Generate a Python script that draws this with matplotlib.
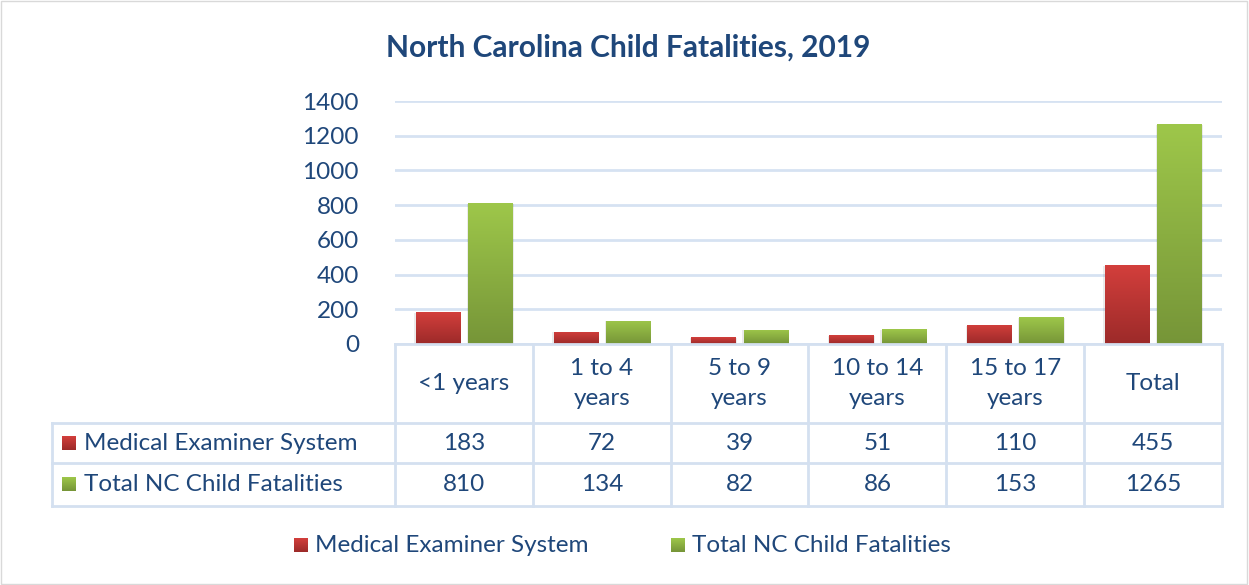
import numpy as np
import matplotlib
matplotlib.use('Agg')
import matplotlib.pyplot as plt
from matplotlib.patches import Rectangle

plt.rcParams['font.family'] = ['Lato', 'DejaVu Sans']

# data
categories = ['<1 years', '1 to 4\nyears', '5 to 9\nyears', '10 to 14\nyears', '15 to 17\nyears', 'Total']
series_names = ['Medical Examiner System', 'Total NC Child Fatalities']
medical_examiner = [183, 72, 39, 51, 110, 455]
total_nc = [810, 134, 82, 86, 153, 1265]
yticks = [0, 200, 400, 600, 800, 1000, 1200, 1400]
title = 'North Carolina Child Fatalities, 2019'

TXT = '#1f477a'
GRID = '#d6e2f2'
gradients = [('#d33f3c', '#9c2a29'), ('#9ec74a', '#769538')]

W, H = 1249, 585
fig = plt.figure(figsize=(W / 100, H / 100), dpi=100)


def fx(px):
    return px / W


def fy(py):
    return 1 - py / H


# plot area
x0, x1, ytop, ybot = 395, 1222, 101, 344
ax = fig.add_axes([fx(x0), fy(ybot), fx(x1 - x0), (ybot - ytop) / H])
ax.set_xlim(0, len(categories))
ax.set_ylim(0, 1400)
ax.set_yticks(yticks)
ax.set_yticklabels([str(t) for t in yticks], fontsize=17.5, color=TXT)
ax.tick_params(axis='y', length=0, pad=26)
ax.set_xticks([])
ax.grid(axis='y', color=GRID, linewidth=2)
ax.set_axisbelow(True)
for s in ax.spines.values():
    s.set_visible(False)

bw = 0.32
offs = [-0.19, 0.19]
for si, vals in enumerate([medical_examiner, total_nc]):
    top_c, bot_c = gradients[si]
    cmap = matplotlib.colors.LinearSegmentedColormap.from_list('g%d' % si, [bot_c, top_c])
    for i, v in enumerate(vals):
        xc = i + 0.5 + offs[si]
        # soft shadow
        ax.add_patch(Rectangle((xc - bw / 2 - 0.01, -8), bw + 0.02, v + 4,
                               facecolor='#000000', alpha=0.08, edgecolor='none', zorder=2))
        bar = ax.bar(xc, v, width=bw, color='none', zorder=3)[0]
        grad = np.linspace(0, 1, 256).reshape(-1, 1)
        im = ax.imshow(grad, cmap=cmap, origin='lower', aspect='auto',
                       extent=(xc - bw / 2, xc + bw / 2, 0, v), zorder=3)
        im.set_clip_path(bar)
ax.set_xlim(0, len(categories))
ax.set_ylim(0, 1400)

# overlay for table, legend, title
ov = fig.add_axes([0, 0, 1, 1])
ov.set_xlim(0, W)
ov.set_ylim(H, 0)
ov.axis('off')
ov.patch.set_alpha(0)

ov.add_patch(Rectangle((1, 1), W - 3, H - 2, fill=False, edgecolor='#d9d9d9', linewidth=1))
ov.text(628, 48, title, fontsize=21.5, fontweight='bold', color=TXT, ha='center', va='center')

lc = '#d4e0f0'
lw = 2
col_w = (x1 - x0) / len(categories)
r1, r2, r3 = 423, 463, 506
tl = 52
# horizontal lines
ov.plot([x0, x1], [ybot, ybot], color=lc, lw=lw)
for yy in (r1, r2, r3):
    ov.plot([tl, x1], [yy, yy], color=lc, lw=lw)
# vertical lines
ov.plot([tl, tl], [r1, r3], color=lc, lw=lw)
for j in range(len(categories) + 1):
    xx = x0 + j * col_w
    ov.plot([xx, xx], [ybot, r3], color=lc, lw=lw)

fs = 17.5
for j, cat in enumerate(categories):
    xc = x0 + (j + 0.5) * col_w
    ov.text(xc, (ybot + r1) / 2, cat, fontsize=fs, color=TXT, ha='center', va='center',
            linespacing=1.55)
    ov.text(xc, (r1 + r2) / 2, str(medical_examiner[j]), fontsize=fs, color=TXT,
            ha='center', va='center')
    ov.text(xc, (r2 + r3) / 2, str(total_nc[j]), fontsize=fs, color=TXT,
            ha='center', va='center')


def key(x, y, si, size=14):
    top_c, bot_c = gradients[si]
    cmap = matplotlib.colors.LinearSegmentedColormap.from_list('k', [top_c, bot_c])
    grad = np.linspace(0, 1, 64).reshape(-1, 1)
    ov.imshow(grad, cmap=cmap, aspect='auto', extent=(x, x + size, y + size, y), zorder=3)


for si, (yy0, yy1) in enumerate([(r1, r2), (r2, r3)]):
    ym = (yy0 + yy1) / 2
    key(62, ym - 7, si)
    ov.text(84, ym, series_names[si], fontsize=fs, color=TXT, ha='left', va='center')

# legend
leg_x = [294, 671]
for si in range(2):
    key(leg_x[si], 538, si)
    ov.text(leg_x[si] + 21, 545, series_names[si], fontsize=fs, color=TXT,
            ha='left', va='center')

ov.set_xlim(0, W)
ov.set_ylim(H, 0)

fig.savefig('out.png', dpi=100)
